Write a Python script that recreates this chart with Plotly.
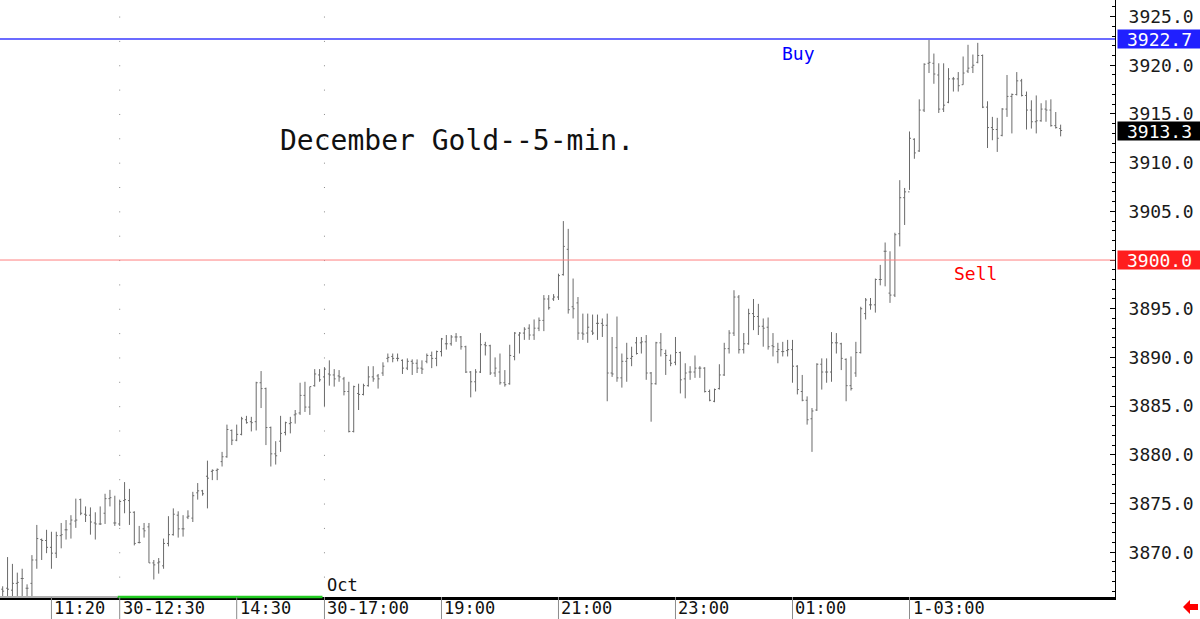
import plotly.graph_objects as go

# ---------------- data (5-min bars, December Gold) ----------------
opens = [3866.2,3866.3,3866.1,3866.8,3867.3,3866.3,3866.8,3869.2,3871.3,3871.2,
 3870.5,3869.9,3871.7,3872.3,3872.9,3873.2,3875.4,3873.9,3873.8,3873.0,
 3872.9,3874.0,3875.5,3873.0,3872.9,3875.3,3875.3,3874.1,3871.0,3872.4,
 3872.6,3868.9,3868.9,3868.6,3870.9,3871.8,3873.8,3872.4,3873.6,3873.5,
 3876.1,3876.3,3877.8,3878.3,3878.4,3879.3,3879.8,3882.5,3881.5,3882.1,
 3883.6,3883.4,3883.4,3887.4,3886.8,3882.8,3880.1,3881.4,3882.3,3883.2,
 3884.1,3884.3,3886.1,3884.9,3887.1,3888.2,3888.0,3888.3,3888.2,3888.1,
 3887.8,3886.5,3882.4,3886.3,3886.2,3887.1,3888.0,3888.1,3888.4,3889.9,
 3890.1,3889.9,3889.7,3888.9,3889.6,3889.4,3888.9,3889.6,3890.2,3889.9,
 3890.6,3891.4,3891.4,3892.1,3892.1,3891.1,3888.5,3887.5,3888.5,3891.3,
 3891.2,3888.4,3888.5,3887.4,3887.3,3890.1,3892.3,3892.5,3893.0,3892.3,
 3893.0,3893.8,3896.0,3896.0,3896.2,3898.5,3901.1,3895.2,3895.6,3892.5,
 3892.5,3892.7,3893.5,3893.5,3893.3,3888.4,3891.0,3887.9,3889.6,3889.9,
 3891.5,3891.5,3891.6,3888.4,3887.3,3891.5,3890.4,3889.7,3889.5,3890.5,
 3887.8,3888.5,3888.5,3888.9,3888.9,3886.5,3885.5,3886.8,3888.2,3890.9,
 3892.5,3896.2,3890.8,3891.4,3894.5,3894.2,3893.2,3893.1,3891.2,3890.6,
 3890.6,3890.7,3890.8,3889.1,3886.5,3885.6,3883.7,3884.6,3889.3,3888.5,
 3888.5,3891.5,3891.4,3889.8,3887.1,3888.4,3890.5,3894.5,3895.4,3895.4,
 3898.0,3900.9,3896.6,3896.4,3902.7,3906.4,3907.0,3912.4,3911.2,3915.4,
 3920.2,3920.2,3919.0,3915.5,3916.2,3918.6,3918.6,3918.0,3919.4,3919.8,
 3920.3,3921.0,3915.7,3913.6,3913.4,3912.8,3915.5,3916.8,3917.0,3918.4,
 3916.9,3915.4,3914.2,3914.3,3915.5,3915.4,3913.8,3913.5]
highs = [3866.5,3869.5,3868.8,3867.9,3868.3,3866.7,3869.7,3872.8,3871.4,3872.3,
 3872.1,3872.1,3873.0,3873.3,3873.8,3875.5,3875.5,3874.7,3874.6,3874.1,
 3874.7,3876.0,3876.4,3875.8,3875.4,3877.2,3876.5,3874.2,3872.7,3873.0,
 3873.0,3869.2,3869.4,3871.4,3873.7,3874.5,3874.2,3873.8,3874.3,3876.2,
 3877.1,3876.4,3879.4,3878.5,3878.6,3880.3,3883.1,3882.6,3883.1,3883.9,
 3884.0,3883.9,3887.5,3888.6,3886.9,3882.9,3881.4,3884.0,3883.4,3883.9,
 3884.6,3887.4,3887.5,3887.0,3888.8,3888.8,3889.0,3889.7,3888.8,3888.7,
 3888.0,3887.5,3887.1,3887.3,3887.3,3889.1,3889.1,3888.3,3889.5,3890.4,
 3890.4,3890.4,3889.8,3889.9,3889.8,3889.8,3889.7,3890.4,3890.6,3890.7,
 3892.0,3892.3,3892.3,3892.5,3892.2,3891.2,3888.6,3888.8,3892.5,3891.6,
 3891.3,3890.0,3890.4,3888.7,3891.3,3892.6,3892.6,3893.1,3893.4,3893.9,
 3894.1,3896.4,3896.4,3896.5,3898.6,3904.0,3903.2,3898.1,3896.2,3894.5,
 3894.5,3894.4,3894.4,3894.0,3894.5,3892.1,3894.2,3890.4,3891.5,3891.1,
 3892.1,3892.1,3892.3,3888.5,3891.6,3892.5,3890.8,3890.3,3892.1,3890.6,
 3889.4,3889.1,3890.2,3889.1,3889.0,3886.7,3886.8,3889.3,3891.5,3892.8,
 3896.9,3896.4,3892.5,3895.0,3896.0,3895.5,3894.0,3894.1,3892.5,3891.5,
 3891.6,3891.8,3891.8,3889.2,3888.2,3886.0,3884.8,3889.4,3889.9,3889.9,
 3892.6,3892.5,3891.5,3889.9,3890.1,3891.6,3895.2,3896.1,3896.1,3898.1,
 3899.5,3901.8,3900.9,3902.8,3908.2,3907.4,3913.2,3912.5,3916.5,3920.2,
 3922.6,3921.2,3920.2,3920.2,3919.7,3918.8,3919.3,3920.9,3922.1,3921.1,
 3922.3,3921.1,3916.3,3914.7,3914.6,3915.6,3919.0,3917.1,3919.3,3918.6,
 3917.3,3916.4,3916.9,3916.1,3916.4,3916.5,3915.2,3913.9]
lows = [3865.0,3865.0,3865.0,3865.0,3865.0,3865.0,3865.2,3868.3,3869.2,3869.9,
 3868.3,3869.4,3870.4,3871.3,3871.4,3872.5,3873.8,3873.1,3871.8,3871.3,
 3872.8,3872.9,3874.7,3872.7,3872.7,3874.0,3872.8,3870.7,3870.9,3871.5,
 3868.9,3867.2,3867.8,3868.3,3870.6,3871.7,3871.5,3871.6,3873.4,3873.1,
 3875.4,3875.8,3874.5,3877.4,3877.4,3878.8,3879.7,3881.0,3881.4,3882.0,
 3883.2,3882.4,3882.5,3884.8,3881.0,3878.8,3879.0,3880.3,3882.0,3882.2,
 3883.2,3884.1,3884.4,3884.1,3887.0,3887.5,3885.0,3887.1,3887.0,3887.5,
 3886.1,3882.3,3882.3,3884.6,3886.1,3887.0,3887.5,3886.8,3888.1,3889.5,
 3889.5,3889.6,3888.3,3888.7,3888.2,3888.4,3888.3,3889.4,3888.9,3889.1,
 3890.1,3890.8,3891.2,3891.6,3890.8,3888.4,3885.9,3886.5,3888.4,3890.2,
 3888.2,3888.0,3887.2,3887.0,3887.2,3889.7,3890.4,3891.8,3891.8,3891.8,
 3892.7,3892.7,3894.9,3895.8,3895.9,3898.4,3894.5,3894.0,3891.8,3891.8,
 3891.5,3892.3,3891.8,3892.1,3885.5,3888.0,3887.5,3886.9,3887.5,3889.1,
 3890.3,3890.4,3887.7,3883.4,3887.2,3890.1,3888.2,3889.1,3889.2,3886.3,
 3885.8,3887.7,3887.9,3887.9,3886.4,3885.5,3885.4,3886.7,3888.1,3890.4,
 3892.2,3890.4,3890.4,3891.3,3892.8,3892.3,3891.1,3890.8,3890.1,3889.4,
 3890.1,3890.1,3887.4,3886.2,3885.5,3883.1,3880.3,3884.5,3886.7,3887.4,
 3887.5,3890.4,3888.7,3885.5,3886.6,3888.0,3890.4,3893.9,3894.9,3894.6,
 3897.4,3897.3,3895.6,3896.2,3901.4,3903.6,3907.2,3910.4,3911.1,3915.2,
 3919.2,3918.1,3915.1,3915.2,3916.1,3917.3,3917.3,3918.0,3919.2,3919.2,
 3920.2,3915.6,3911.5,3912.3,3911.1,3912.7,3914.7,3913.0,3916.9,3916.8,
 3913.4,3913.5,3913.0,3914.2,3914.2,3913.7,3913.5,3912.7]
closes = [3866.0,3866.2,3866.8,3866.9,3867.3,3866.3,3869.2,3871.4,3871.2,3870.5,
 3869.9,3871.7,3871.8,3872.3,3873.3,3873.3,3874.0,3873.8,3873.1,3872.9,
 3872.9,3875.5,3875.6,3873.0,3875.2,3875.4,3874.1,3870.9,3871.0,3872.2,
 3868.9,3868.7,3869.0,3870.9,3871.8,3873.9,3872.4,3872.4,3873.7,3875.8,
 3876.3,3876.0,3877.6,3878.4,3878.5,3879.8,3882.6,3881.5,3882.1,3883.7,
 3883.3,3883.3,3887.4,3886.8,3882.8,3880.1,3879.9,3882.2,3883.3,3883.3,
 3884.2,3886.1,3884.9,3887.0,3888.3,3887.7,3888.8,3888.2,3887.8,3888.0,
 3886.5,3882.4,3887.0,3886.2,3887.1,3888.0,3887.8,3887.8,3889.1,3890.0,
 3889.9,3889.9,3888.9,3889.6,3889.4,3888.9,3888.8,3890.2,3889.9,3890.6,
 3891.9,3891.4,3892.1,3892.1,3891.1,3888.5,3887.5,3888.5,3891.3,3891.2,
 3888.4,3888.9,3887.4,3887.2,3890.2,3892.5,3892.5,3892.9,3892.3,3893.0,
 3893.8,3896.0,3895.1,3896.2,3898.4,3901.4,3894.9,3895.0,3892.5,3892.4,
 3893.1,3892.5,3893.5,3893.3,3888.4,3888.3,3887.9,3889.6,3889.9,3890.1,
 3890.4,3891.6,3888.4,3887.3,3891.5,3890.8,3890.2,3889.4,3890.5,3887.7,
 3888.4,3888.5,3888.9,3888.9,3886.5,3885.6,3886.7,3888.2,3890.9,3892.5,
 3896.2,3890.8,3891.4,3894.5,3894.2,3893.2,3893.0,3891.1,3891.1,3890.8,
 3890.6,3890.8,3889.1,3886.7,3885.6,3883.6,3884.5,3889.3,3888.5,3888.5,
 3891.5,3891.5,3889.9,3887.1,3886.8,3890.5,3895.0,3895.9,3895.4,3898.0,
 3898.0,3900.9,3896.4,3902.6,3906.4,3907.0,3912.5,3911.0,3915.4,3920.1,
 3920.3,3919.1,3915.5,3915.9,3918.6,3918.6,3917.9,3919.2,3919.7,3920.0,
 3921.0,3915.7,3913.6,3913.4,3912.5,3915.5,3916.8,3917.0,3918.4,3916.9,
 3915.4,3914.2,3914.3,3915.5,3915.4,3913.8,3913.6,3913.3]

bar_index = list(range(len(opens)))

tick_positions = [10, 24, 48, 66, 90, 114, 138, 162, 186]
tick_labels = ["11:20", "30-12:30", "14:30", "30-17:00", "19:00", "21:00", "23:00", "01:00", "1-03:00"]
session_starts = [24, 66]

buy_level = 3922.7
sell_level = 3900.0
last_price = closes[-1]

y_ticks = [3870, 3875, 3880, 3885, 3890, 3895, 3900, 3905, 3910, 3915, 3920, 3925]
# the 3900.0 level is shown by the red price box, so its axis label is left blank
y_tick_text = ["" if v == sell_level else f"{v:.1f}" for v in y_ticks]

# ---------------- layout constants ----------------
W, H = 1200, 619
ML, MR, MT, MB = 0, 85, 0, 22
PW, PH = W - ML - MR, H - MT - MB
MONO = "DejaVu Sans Mono"

def px2paper(px, py):
    return (px - ML) / PW, (H - MB - py) / PH

fig = go.Figure()
fig.add_trace(go.Ohlc(
    x=bar_index, open=opens, high=highs, low=lows, close=closes,
    increasing=dict(line=dict(color="#6a6a6a", width=1)),
    decreasing=dict(line=dict(color="#6a6a6a", width=1)),
    tickwidth=0.3, hoverinfo="skip", showlegend=False,
))

shapes = []
# dotted session lines
for s in session_starts:
    shapes.append(dict(type="line", xref="x", yref="y", x0=s, x1=s, y0=3925, y1=3865.4,
                       line=dict(color="#8a8a8a", width=1, dash="1px,23.35px"), layer="below"))
# buy / sell lines
shapes.append(dict(type="line", xref="paper", yref="y", x0=0, x1=1, y0=buy_level, y1=buy_level,
                   line=dict(color="#3a3aff", width=1.5)))
shapes.append(dict(type="line", xref="paper", yref="y", x0=0, x1=1, y0=sell_level, y1=sell_level,
                   line=dict(color="#ff8080", width=1)))
# session coloured axis segments
shapes.append(dict(type="line", xref="x", yref="paper", x0=-0.6, x1=session_starts[0] - 0.4, y0=0, y1=0,
                   line=dict(color="#b0b0b0", width=2)))
shapes.append(dict(type="line", xref="x", yref="paper", x0=session_starts[0] - 0.4, x1=session_starts[1] - 0.4,
                   y0=0, y1=0, line=dict(color="#22cc22", width=2.5)))
# separators for time labels
for t in tick_positions:
    shapes.append(dict(type="line", xref="x", yref="paper", x0=t, x1=t, y0=0, y1=-(MB + 2) / PH,
                       line=dict(color="#8c8c8c", width=1)))
# red arrow bottom right
pts = [(1183, 607), (1190, 600), (1190, 604), (1198, 604), (1198, 610), (1190, 610), (1190, 614)]
pp = [px2paper(a, b) for a, b in pts]
path = "M " + " L ".join(f"{a:.5f},{b:.5f}" for a, b in pp) + " Z"
shapes.append(dict(type="path", xref="paper", yref="paper", path=path,
                   fillcolor="#ff0000", line=dict(color="#ff0000", width=0)))

annotations = []
# time labels beside their separators
label_y = px2paper(0, 608)[1]
for t, lab in zip(tick_positions, tick_labels):
    annotations.append(dict(text=lab, xref="x", yref="paper", x=t, y=label_y, xanchor="left",
                            yanchor="middle", xshift=1, showarrow=False,
                            font=dict(family=MONO, size=17, color="#111111")))
tx, ty = px2paper(278, 140)
annotations.append(dict(text="December Gold--5-min.", xref="paper", yref="paper", x=tx, y=ty,
                        xanchor="left", yanchor="middle", showarrow=False,
                        font=dict(family=MONO, size=28, color="#111111")))
bx, by = px2paper(798, 53)
annotations.append(dict(text="Buy", xref="paper", yref="paper", x=bx, y=by, xanchor="center",
                        yanchor="middle", showarrow=False, font=dict(family=MONO, size=18, color="#0000ff")))
sx, sy = px2paper(975, 273)
annotations.append(dict(text="Sell", xref="paper", yref="paper", x=sx, y=sy, xanchor="center",
                        yanchor="middle", showarrow=False, font=dict(family=MONO, size=18, color="#ff0000")))
annotations.append(dict(text="Oct", xref="x", yref="paper", x=session_starts[1], y=px2paper(0, 585)[1],
                        xanchor="left", yanchor="middle", xshift=1, showarrow=False,
                        font=dict(family=MONO, size=17, color="#111111")))
# price boxes on the axis
for val, col in [(buy_level, "#2020ff"), (last_price, "#000000"), (sell_level, "#ff1e1e")]:
    annotations.append(dict(text=f"{val:.1f}", xref="paper", yref="y", x=(1117 - ML) / PW, y=val,
                            xanchor="left", yanchor="middle", showarrow=False, width=83, height=18,
                            bgcolor=col, borderpad=0, align="center",
                            font=dict(family=MONO, size=18, color="#ffffff")))

fig.update_layout(
    width=W, height=H, margin=dict(l=ML, r=MR, t=MT, b=MB, autoexpand=False),
    paper_bgcolor="white", plot_bgcolor="white",
    shapes=shapes, annotations=annotations, showlegend=False,
    xaxis=dict(range=[-0.55, 228.15], showgrid=False, zeroline=False, automargin=False,
               rangeslider=dict(visible=False), showticklabels=False, ticks="",
               tickmode="array", tickvals=tick_positions,
               showline=True, linecolor="#000000", linewidth=2.5),
    yaxis=dict(range=[3865.4, 3926.7], side="right", showgrid=False, zeroline=False, automargin=False,
               tickmode="array", tickvals=y_ticks, ticktext=y_tick_text,
               ticks="inside", ticklen=5, tickcolor="#000000", tickwidth=1,
               minor=dict(ticks="inside", ticklen=3, dtick=1, tick0=3865, tickcolor="#000000", tickwidth=1),
               ticklabelstandoff=9,
               tickfont=dict(family=MONO, size=18, color="#1a1a1a"),
               showline=True, linecolor="#000000", linewidth=1),
)

fig.write_html("out.html")
